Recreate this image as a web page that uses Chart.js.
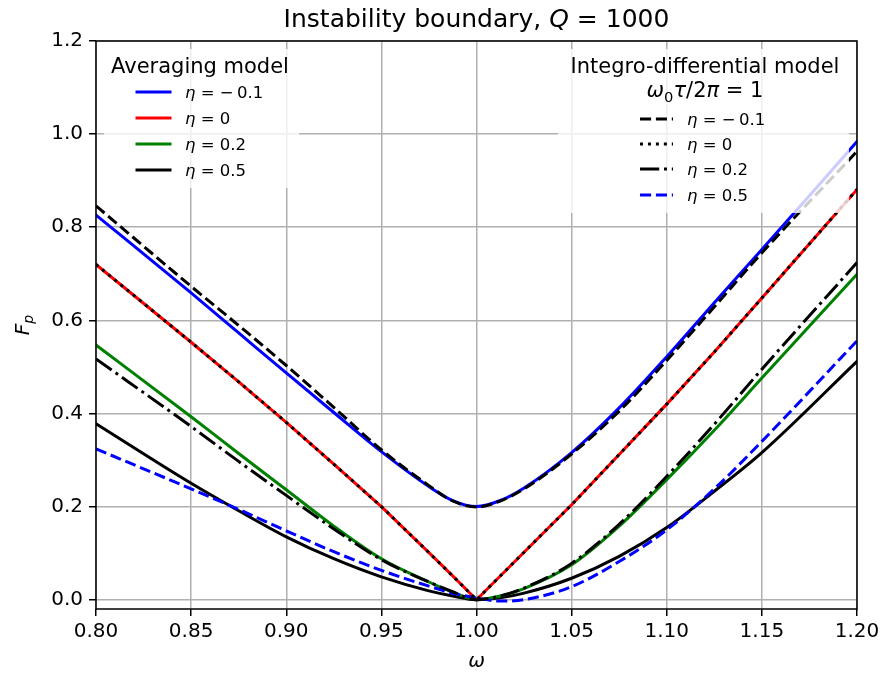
<!DOCTYPE html>
<html>
<head>
<meta charset="utf-8">
<script src="https://cdn.jsdelivr.net/npm/chart.js@4.4.0/dist/chart.umd.min.js"></script>
<style>
  html, body { margin: 0; padding: 0; background: #fff; }
  #wrap { position: relative; width: 885px; height: 677px; }
</style>
</head>
<body>
<div id="wrap"><canvas id="chart" width="885" height="677"></canvas></div>
<script>
const omega = [0.80, 0.85, 0.875, 0.90, 0.925, 0.95, 0.975, 0.9875, 1.00, 1.0125, 1.025, 1.05, 1.075, 1.10, 1.125, 1.15, 1.20];

// Averaging model
const avgEtaM01 = [0.826, 0.659, 0.573, 0.487, 0.402, 0.318, 0.243, 0.213, 0.200, 0.213, 0.240, 0.316, 0.412, 0.522, 0.638, 0.752, 0.984];
const avgEta0   = [0.720, 0.553, 0.468, 0.381, 0.291, 0.200, 0.101, 0.051, 0.000, 0.051, 0.102, 0.204, 0.312, 0.420, 0.532, 0.648, 0.881];
const avgEta02  = [0.547, 0.393, 0.314, 0.236, 0.158, 0.088, 0.038, 0.016, 0.000, 0.008, 0.024, 0.075, 0.158, 0.258, 0.364, 0.476, 0.699];
const avgEta05  = [0.378, 0.250, 0.191, 0.135, 0.088, 0.049, 0.019, 0.008, 0.000, 0.004, 0.014, 0.046, 0.093, 0.155, 0.233, 0.316, 0.512];

// Integro-differential model, omega0*tau/2pi = 1
const intEtaM01 = [0.846, 0.673, 0.589, 0.503, 0.413, 0.322, 0.245, 0.212, 0.199, 0.212, 0.238, 0.313, 0.405, 0.514, 0.629, 0.745, 0.963];
const intEta0   = [0.720, 0.553, 0.468, 0.381, 0.291, 0.200, 0.101, 0.051, 0.000, 0.051, 0.102, 0.204, 0.312, 0.420, 0.532, 0.648, 0.881];
const intEta02  = [0.517, 0.372, 0.297, 0.224, 0.152, 0.086, 0.038, 0.017, 0.000, 0.008, 0.025, 0.078, 0.162, 0.265, 0.377, 0.495, 0.724];
const intEta05  = [0.324, 0.238, 0.194, 0.148, 0.103, 0.063, 0.029, 0.014, 0.004, -0.003, 0.000, 0.028, 0.082, 0.150, 0.238, 0.340, 0.556];

const etaValues = [-0.1, 0, 0.2, 0.5];
const xTicks = [0.80, 0.85, 0.90, 0.95, 1.00, 1.05, 1.10, 1.15, 1.20];
const yTicks = [0.0, 0.2, 0.4, 0.6, 0.8, 1.0, 1.2];

const FONT = '"DejaVu Sans", sans-serif';
const LW = 3;
const DASHED = [11.1, 4.8];
const DOTTED = [3, 4.95];
const DASHDOT = [19.2, 4.8, 3, 4.8];

function toPoints(ys) {
    return omega.map((x, i) => ({ x: x, y: ys[i] }));
}

function etaText(v) {
    return v < 0 ? '\u2212\u2009' + Math.abs(v) : String(v);
}

// draw text made of upright / italic / subscript pieces (mathtext look-alike)
function partFont(p, size) {
    const s = p.sub ? size * 0.7 : size;
    return (p.it ? 'italic ' : '') + s + 'px ' + FONT;
}
function richWidth(ctx, parts, size) {
    let w = 0;
    parts.forEach(p => { ctx.font = partFont(p, size); w += ctx.measureText(p.t).width; });
    return w;
}
function drawRich(ctx, parts, x, y, size, align) {
    const w = richWidth(ctx, parts, size);
    let cx = align === 'center' ? x - w / 2 : (align === 'right' ? x - w : x);
    ctx.textBaseline = 'alphabetic';
    ctx.textAlign = 'left';
    parts.forEach(p => {
        ctx.font = partFont(p, size);
        ctx.fillText(p.t, cx, y + (p.sub ? size * 0.22 : 0));
        cx += ctx.measureText(p.t).width;
    });
}

function makeSet(ys, color, dash, order, curved) {
    return {
        data: toPoints(ys),
        borderColor: color,
        backgroundColor: color,
        borderWidth: LW,
        borderDash: dash,
        borderCapStyle: dash.length ? 'butt' : 'square',
        borderJoinStyle: 'round',
        pointRadius: 0,
        showLine: true,
        fill: false,
        order: order,
        cubicInterpolationMode: curved ? 'monotone' : 'default',
        tension: 0
    };
}

const avgStyles = [
    { color: '#0000ff', dash: [] },
    { color: '#ff0000', dash: [] },
    { color: '#008000', dash: [] },
    { color: '#000000', dash: [] }
];
const intStyles = [
    { color: '#000000', dash: DASHED },
    { color: '#000000', dash: DOTTED },
    { color: '#000000', dash: DASHDOT },
    { color: '#0000ff', dash: DASHED }
];

const datasets = [
    makeSet(avgEtaM01, avgStyles[0].color, avgStyles[0].dash, 1, true),
    makeSet(avgEta0, avgStyles[1].color, avgStyles[1].dash, 1, false),
    makeSet(avgEta02, avgStyles[2].color, avgStyles[2].dash, 1, true),
    makeSet(avgEta05, avgStyles[3].color, avgStyles[3].dash, 1, true),
    makeSet(intEtaM01, intStyles[0].color, intStyles[0].dash, 0, true),
    makeSet(intEta0, intStyles[1].color, intStyles[1].dash, 0, false),
    makeSet(intEta02, intStyles[2].color, intStyles[2].dash, 0, true),
    makeSet(intEta05, intStyles[3].color, intStyles[3].dash, 0, true)
];

// frame around the axes
const spinePlugin = {
    id: 'spines',
    afterDatasetsDraw(chart) {
        const { ctx, chartArea: a } = chart;
        ctx.save();
        ctx.strokeStyle = '#000';
        ctx.lineWidth = 1.5;
        ctx.strokeRect(a.left, a.top, a.right - a.left, a.bottom - a.top);
        ctx.restore();
    }
};

function drawLegend(ctx, box, titleLines, entries, styles, handleX, textX, rowY) {
    ctx.save();
    ctx.fillStyle = 'rgba(255,255,255,0.8)';
    ctx.beginPath();
    ctx.roundRect(box.x, box.y, box.w, box.h, 4);
    ctx.fill();
    ctx.fillStyle = '#000';
    titleLines.forEach(t => drawRich(ctx, t.parts, t.x, t.y, 21, 'center'));
    entries.forEach((v, i) => {
        const st = styles[i];
        const y = rowY[i];
        ctx.strokeStyle = st.color;
        ctx.lineWidth = LW;
        ctx.setLineDash(st.dash);
        ctx.lineCap = st.dash.length ? 'butt' : 'square';
        ctx.beginPath();
        ctx.moveTo(handleX, y);
        ctx.lineTo(handleX + 33, y);
        ctx.stroke();
        ctx.setLineDash([]);
        ctx.fillStyle = '#000';
        drawRich(ctx, [{ t: '\u03b7', it: true }, { t: ' = ' + etaText(v) }], textX, y + 6, 16.5, 'left');
    });
    ctx.restore();
}

const textPlugin = {
    id: 'texts',
    afterDraw(chart) {
        const { ctx, chartArea: a } = chart;
        const cx = (a.left + a.right) / 2;
        ctx.save();
        ctx.fillStyle = '#000';
        // title
        drawRich(ctx, [{ t: 'Instability boundary, ' }, { t: 'Q', it: true }, { t: ' = 1000' }], cx, 27, 25, 'center');
        // x label
        drawRich(ctx, [{ t: '\u03c9', it: true }], cx, 667, 20, 'center');
        // y label
        ctx.save();
        ctx.translate(29, (a.top + a.bottom) / 2);
        ctx.rotate(-Math.PI / 2);
        drawRich(ctx, [{ t: 'F', it: true }, { t: 'p', it: true, sub: true }], 0, 0, 20, 'center');
        ctx.restore();
        ctx.restore();

        drawLegend(ctx, { x: 104, y: 49, w: 195, h: 139 },
            [{ parts: [{ t: 'Averaging model' }], x: 200, y: 73 }],
            etaValues, avgStyles, 137, 185, [92, 118, 144, 170]);

        drawLegend(ctx, { x: 558, y: 49, w: 291, h: 164 },
            [{ parts: [{ t: 'Integro-differential model' }], x: 705, y: 73 },
             { parts: [{ t: '\u03c9', it: true }, { t: '0', sub: true }, { t: '\u03c4', it: true }, { t: '/2' }, { t: '\u03c0', it: true }, { t: ' = 1' }], x: 705, y: 97 }],
            etaValues, intStyles, 640, 687, [119, 144, 169, 195]);
    }
};

const tickFont = { family: FONT, size: 20 };

new Chart(document.getElementById('chart'), {
    type: 'scatter',
    data: { datasets: datasets },
    options: {
        responsive: false,
        animation: false,
        devicePixelRatio: 1,
        layout: { padding: { left: 0, right: 28, top: 41, bottom: 0 } },
        plugins: {
            legend: { display: false },
            title: { display: false },
            tooltip: { enabled: false }
        },
        scales: {
            x: {
                type: 'linear',
                min: 0.8,
                max: 1.2,
                afterBuildTicks: s => { s.ticks = xTicks.map(v => ({ value: v })); },
                afterFit: s => { s.height = 68; },
                ticks: { font: tickFont, color: '#000', padding: 4, maxRotation: 0, autoSkip: false,
                         callback: v => v.toFixed(2) },
                grid: { color: '#b0b0b0', lineWidth: 1.5, tickColor: '#000', tickWidth: 1.5, tickLength: 7 },
                border: { display: false }
            },
            y: {
                type: 'linear',
                min: -0.02,
                max: 1.2,
                afterBuildTicks: s => { s.ticks = yTicks.map(v => ({ value: v })); },
                afterFit: s => { s.width = 96; },
                ticks: { font: tickFont, color: '#000', padding: 6, autoSkip: false,
                         callback: v => v.toFixed(1) },
                grid: { color: '#b0b0b0', lineWidth: 1.5, tickColor: '#000', tickWidth: 1.5, tickLength: 7 },
                border: { display: false }
            }
        }
    },
    plugins: [spinePlugin, textPlugin]
});
</script>
</body>
</html>
